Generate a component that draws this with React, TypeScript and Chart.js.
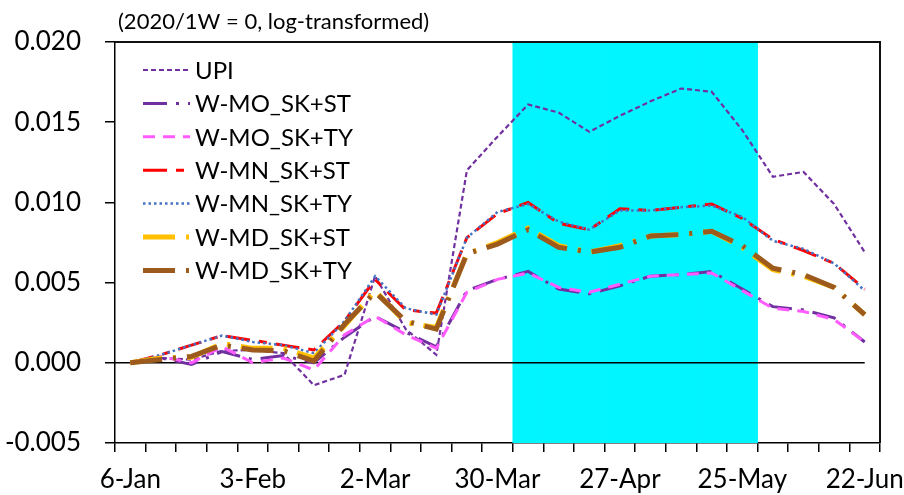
import React, { useEffect, useRef } from "react";
import { Chart, registerables } from "chart.js";

Chart.register(...registerables);

// weekly, 2020
const weeks = [
  "6-Jan", "13-Jan", "20-Jan", "27-Jan", "3-Feb", "10-Feb", "17-Feb", "24-Feb",
  "2-Mar", "9-Mar", "16-Mar", "23-Mar", "30-Mar", "6-Apr", "13-Apr", "20-Apr",
  "27-Apr", "4-May", "11-May", "18-May", "25-May", "1-Jun", "8-Jun", "15-Jun", "22-Jun",
];

const upi = [0, 0.0003, 0.0002, 0.00075, 0.0008, 0.0006, -0.0014, -0.00075, 0.0054, 0.0021, 0.0005, 0.012, 0.0141, 0.0161, 0.0156, 0.0144, 0.0154, 0.0163, 0.0171, 0.0169, 0.0145, 0.0116, 0.0119, 0.0099, 0.0069];
const moSt = [0, 0.0003, -0.0001, 0.0007, 0.0002, 0.00045, 0, 0.0016, 0.0029, 0.0019, 0.001, 0.0045, 0.0052, 0.0057, 0.0046, 0.0043, 0.0048, 0.0054, 0.0055, 0.0057, 0.0046, 0.0035, 0.0033, 0.0028, 0.0013];
const moTy = [0, 0.0004, 0, 0.001, 0, 0.0003, -0.00045, 0.00175, 0.0029, 0.00175, 0.0009, 0.0044, 0.0052, 0.0056, 0.0047, 0.0044, 0.0049, 0.0054, 0.0055, 0.0056, 0.0045, 0.0034, 0.0032, 0.0027, 0.0013];
const mnSt = [0, 0.0005, 0.0011, 0.0017, 0.0014, 0.0011, 0.0008, 0.0026, 0.0052, 0.0033, 0.0031, 0.0078, 0.0093, 0.01, 0.0087, 0.0083, 0.0096, 0.0095, 0.0097, 0.0099, 0.009, 0.0077, 0.007, 0.0062, 0.0046];
const mnTy = [0, 0.0005, 0.0011, 0.0017, 0.0013, 0.0011, 0.0006, 0.0026, 0.0054, 0.0034, 0.003, 0.0078, 0.0094, 0.0099, 0.0088, 0.0083, 0.0095, 0.0095, 0.0097, 0.0098, 0.0091, 0.0076, 0.0071, 0.0062, 0.0045];
const mdSt = [0, 0.0003, 0.00035, 0.0012, 0.0009, 0.0009, 0.0003, 0.0023, 0.0045, 0.0025, 0.0022, 0.0068, 0.0075, 0.0084, 0.0073, 0.0069, 0.0073, 0.0079, 0.008, 0.0082, 0.0072, 0.0058, 0.0054, 0.0047, 0.003];
const mdTy = [0, 0.0002, 0.0004, 0.0011, 0.0008, 0.00075, 0.0001, 0.0024, 0.0044, 0.0026, 0.0021, 0.0068, 0.0074, 0.0083, 0.0072, 0.0069, 0.0072, 0.0079, 0.008, 0.0082, 0.0073, 0.0059, 0.0055, 0.0047, 0.003];

const yTicks = [-0.005, 0, 0.005, 0.01, 0.015, 0.02];
const labelEvery = 4;

// shaded period
const shadeFrom = "6-Apr";
const shadeTo = "25-May";

const note = "(2020/1W = 0, log-transformed)";
const FONT = "Lato, 'Open Sans', sans-serif";

const series = [
  { label: "UPI", data: upi, color: "#7030A0", width: 2.2, dash: [5, 3] },
  { label: "W-MO_SK+ST", data: moSt, color: "#7030A0", width: 3, dash: [24, 9, 3, 9] },
  { label: "W-MO_SK+TY", data: moTy, color: "#FF5BFF", width: 3, dash: [12, 8] },
  { label: "W-MN_SK+ST", data: mnSt, color: "#FF0000", width: 3, dash: [24, 9, 8, 9] },
  { label: "W-MN_SK+TY", data: mnTy, color: "#4472C4", width: 2.5, dash: [2.5, 3] },
  { label: "W-MD_SK+ST", data: mdSt, color: "#FFC000", width: 5, dash: [32, 11, 3, 11] },
  { label: "W-MD_SK+TY", data: mdTy, color: "#9C5A1C", width: 5, dash: [32, 11, 3, 11] },
];

const zeroLine = {
  id: "zeroLine",
  afterDatasetDraw(chart: any, args: any) {
    if (args.meta.type !== "bar") return;
    const { ctx, chartArea, scales } = chart;
    const y = scales.y.getPixelForValue(0);
    const xEnd = scales.x.getPixelForValue(weeks.length - 1);
    ctx.save();
    ctx.strokeStyle = "#000";
    ctx.lineWidth = 1.5;
    ctx.beginPath();
    ctx.moveTo(chartArea.left, y);
    ctx.lineTo(xEnd, y);
    ctx.stroke();
    ctx.restore();
  },
};

const frameAndLegend = {
  id: "frameAndLegend",
  afterDraw(chart: any) {
    const { ctx, chartArea } = chart;
    ctx.save();
    // top + right frame
    ctx.strokeStyle = "#111";
    ctx.lineWidth = 2;
    ctx.beginPath();
    ctx.moveTo(chartArea.left, chartArea.top);
    ctx.lineTo(chartArea.right, chartArea.top);
    ctx.lineTo(chartArea.right, chartArea.bottom);
    ctx.stroke();

    // note above plot
    ctx.fillStyle = "#000";
    ctx.font = `22px ${FONT}`;
    ctx.textBaseline = "middle";
    ctx.textAlign = "left";
    ctx.fillText(note, chartArea.left + 3, 22);

    // legend inside plot
    ctx.font = `24px ${FONT}`;
    series.forEach((s, i) => {
      const y = 70 + i * 33.4;
      ctx.strokeStyle = s.color;
      ctx.lineWidth = s.width;
      ctx.setLineDash(s.dash);
      ctx.beginPath();
      ctx.moveTo(143, y);
      ctx.lineTo(190, y);
      ctx.stroke();
      ctx.setLineDash([]);
      ctx.fillText(s.label, 195, y + 1);
    });
    ctx.restore();
  },
};

export default function App() {
  const chartRef = useRef<HTMLCanvasElement | null>(null);

  useEffect(() => {
    if (!chartRef.current) return;
    const ctx = chartRef.current.getContext("2d");
    if (!ctx) return;

    const i0 = weeks.indexOf(shadeFrom);
    const i1 = weeks.indexOf(shadeTo);
    const shade = weeks.map((_, i) =>
      i >= i0 && i <= i1 ? [yTicks[0], yTicks[yTicks.length - 1]] : null
    );

    const chart = new Chart(ctx, {
      type: "line",
      data: {
        labels: weeks,
        datasets: [
          {
            type: "bar",
            label: "shade",
            data: shade as any,
            backgroundColor: "#00F5FF",
            borderWidth: 0,
            barPercentage: 1,
            categoryPercentage: 1,
            order: 100,
          } as any,
          ...series.map((s, i) => ({
            type: "line" as const,
            label: s.label,
            data: s.data,
            borderColor: s.color,
            borderWidth: s.width,
            borderDash: s.dash,
            pointRadius: 0,
            fill: false,
            tension: 0,
            order: series.length - i,
          })),
        ],
      },
      options: {
        animation: false,
        responsive: false,
        layout: { padding: { top: 42, right: 24, left: 0, bottom: 0 } },
        plugins: {
          legend: { display: false },
          title: { display: false },
          tooltip: { enabled: false },
        },
        scales: {
          x: {
            type: "category",
            offset: true,
            grid: { offset: true, drawOnChartArea: false, tickLength: 9, color: "#000", lineWidth: 1.5 },
            border: { color: "#000", width: 1.5 },
            ticks: {
              autoSkip: false,
              maxRotation: 0,
              padding: 12,
              color: "#000",
              font: { family: FONT, size: 26 },
              callback: (_v: any, i: number) => (i % labelEvery === 0 ? weeks[i] : ""),
            },
            afterFit: (scale: any) => {
              scale.height = 52;
              scale.paddingLeft = 0;
              scale.paddingRight = 0;
            },
          },
          y: {
            min: yTicks[0],
            max: yTicks[yTicks.length - 1],
            afterBuildTicks: (scale: any) => {
              scale.ticks = yTicks.map((v) => ({ value: v }));
            },
            grid: { drawOnChartArea: false, tickLength: 10, color: "#000", lineWidth: 1.5 },
            border: { color: "#000", width: 1.5 },
            ticks: {
              padding: 24,
              color: "#000",
              font: { family: FONT, size: 26 },
              callback: (v: any) => Number(v).toFixed(3),
            },
            afterFit: (scale: any) => {
              scale.width = 115;
              scale.paddingTop = 0;
              scale.paddingBottom = 0;
            },
          },
        },
      },
      plugins: [zeroLine, frameAndLegend],
    });

    return () => {
      chart.destroy();
    };
  }, []);

  return (
    <div style={{ position: "absolute", left: 0, top: 0, width: 904, height: 495 }}>
      <canvas ref={chartRef} width={904} height={495} />
    </div>
  );
}
